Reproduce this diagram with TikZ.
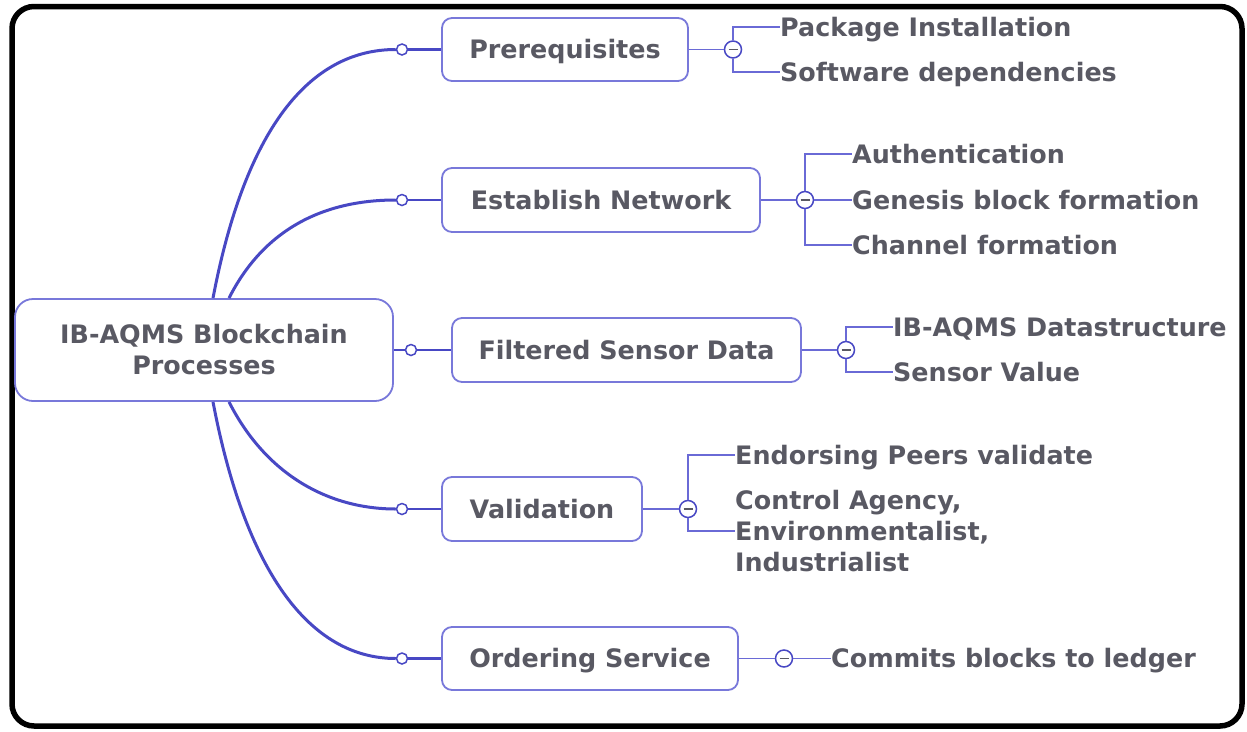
\documentclass[tikz,border=0pt]{standalone}
\usepackage{fontspec}
\setmainfont{DejaVu Sans}
\definecolor{txt}{HTML}{595963}
\definecolor{curvec}{HTML}{4848C4}
\definecolor{boxc}{HTML}{7878DA}
\definecolor{subc}{HTML}{6A6AD6}
\begin{document}
\begin{tikzpicture}[x=1pt,y=-1pt,
  font=\fontsize{25.4}{31}\selectfont\bfseries,
  box/.style={draw=boxc, line width=1.8pt, rounded corners=10pt, text=txt, fill=white,
    text height=18.4pt, text depth=0pt, inner sep=0pt},
  rootbox/.style={draw=boxc, line width=1.8pt, rounded corners=18pt, text=txt, fill=white,
    align=center, inner sep=0pt},
  dot/.style={circle, draw=curvec, line width=1.5pt, fill=white, minimum size=11pt, inner sep=0pt},
  minus/.style={circle, draw=curvec, line width=1.5pt, fill=white, minimum size=17pt, inner sep=0pt,
    path picture={\draw[txt, line width=1.5pt] ([xshift=-4.5pt]path picture bounding box.center) -- ([xshift=4.5pt]path picture bounding box.center);}},
  leaf/.style={text=txt, inner sep=0pt, text height=18.4pt, text depth=0pt, anchor=west},
  leafml/.style={text=txt, inner sep=0pt, anchor=west, align=left},
  curve/.style={draw=curvec, line width=3pt},
  link/.style={draw=curvec, line width=2.2pt},
  sub/.style={draw=subc, line width=1.7pt}]
\useasboundingbox (0,0) rectangle (1247,731);
\draw[line width=5.5pt, rounded corners=22pt] (12,6.5) rectangle (1242,726);

% root
\node[rootbox, minimum width=378pt, minimum height=102pt] (root) at (204,350) {IB-AQMS Blockchain\\Processes};

% connector dots
\node[dot] (c1) at (402,49.5) {};
\node[dot] (c2) at (402,200) {};
\node[dot] (c3) at (411,350) {};
\node[dot] (c4) at (402,509) {};
\node[dot] (c5) at (402,658.5) {};

% main boxes
\node[box, minimum width=246pt, minimum height=63pt] (pre) at (565,49.5) {Prerequisites};
\node[box, minimum width=318pt, minimum height=64pt] (est) at (601,200) {Establish Network};
\node[box, minimum width=349pt, minimum height=64pt] (fil) at (626.5,350) {Filtered Sensor Data};
\node[box, minimum width=200pt, minimum height=64pt] (val) at (542,509) {Validation};
\node[box, minimum width=296pt, minimum height=63pt] (ord) at (590,658.5) {Ordering Service};

% curves
\draw[curve] ([xshift=9pt]root.north) .. controls +(32,-168) and +(-87,0) .. (c1.west);
\draw[curve] ([xshift=25pt]root.north) .. controls +(37,-73) and +(-67,0) .. (c2.west);
\draw[curve] ([xshift=9pt]root.south) .. controls +(32,168) and +(-87,0) .. (c5.west);
\draw[curve] ([xshift=25pt]root.south) .. controls +(37,73) and +(-67,0) .. (c4.west);
\draw[link] (root.east) -- (c3.west);
\draw[link] (c1.east) -- (pre.west);
\draw[link] (c2.east) -- (est.west);
\draw[link] (c3.east) -- (fil.west);
\draw[link] (c4.east) -- (val.west);
\draw[link] (c5.east) -- (ord.west);

% minus circles
\node[minus] (m1) at (733,49.5) {};
\node[minus] (m2) at (805,200) {};
\node[minus] (m3) at (846,350) {};
\node[minus] (m4) at (688,509) {};
\node[minus] (m5) at (784,658.5) {};

\draw[sub] (pre.east) -- (m1.west);
\draw[sub] (est.east) -- (m2.west);
\draw[sub] (fil.east) -- (m3.west);
\draw[sub] (val.east) -- (m4.west);
\draw[sub] (ord.east) -- (m5.west);

% leaves
\node[leaf] (p1) at (780,27) {Package Installation};
\node[leaf] (p2) at (780,72) {Software dependencies};
\node[leaf] (e1) at (852,154) {Authentication};
\node[leaf] (e2) at (852,200) {Genesis block formation};
\node[leaf] (e3) at (852,245) {Channel formation};
\node[leaf] (f1) at (893,327) {IB-AQMS Datastructure};
\node[leaf] (f2) at (893,372) {Sensor Value};
\node[leaf] (v1) at (735,455) {Endorsing Peers validate};
\node[leafml] (v2) at (735,531) {Control Agency,\\Environmentalist,\\Industrialist};
\node[leaf] (o1) at (831,658.5) {Commits blocks to ledger};

\draw[sub] (m1.north) |- (p1.west);
\draw[sub] (m1.south) |- (p2.west);
\draw[sub] (m2.north) |- (e1.west);
\draw[sub] (m2.east) -- (e2.west);
\draw[sub] (m2.south) |- (e3.west);
\draw[sub] (m3.north) |- (f1.west);
\draw[sub] (m3.south) |- (f2.west);
\draw[sub] (m4.north) |- (v1.west);
\draw[sub] (m4.south) |- (v2.west);
\draw[sub] (m5.east) -- (o1.west);
\end{tikzpicture}
\end{document}
